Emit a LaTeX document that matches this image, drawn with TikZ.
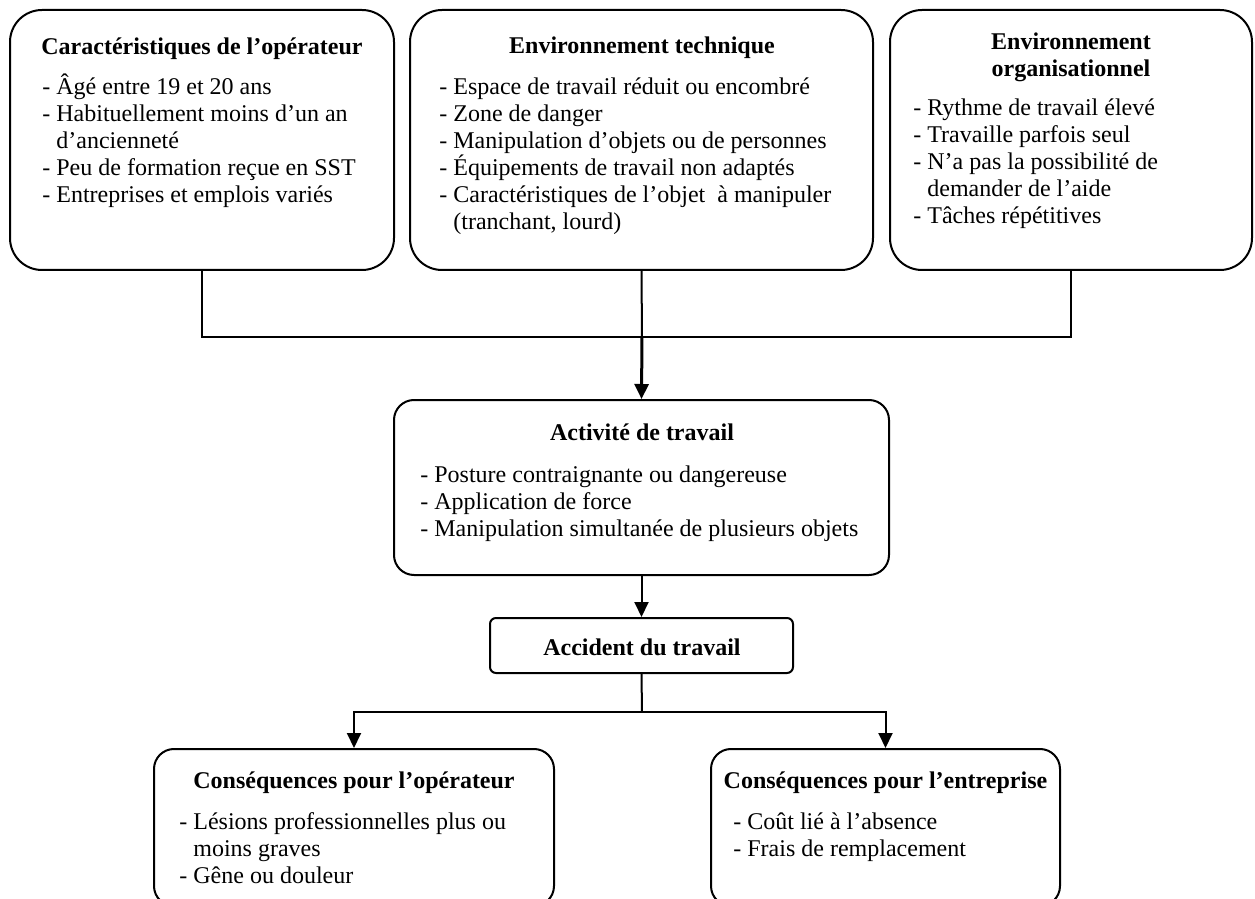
\documentclass[tikz,border=0pt]{standalone}
\usepackage{fontspec}
\setmainfont{Liberation Serif}
\usetikzlibrary{arrows.meta,fit}
\newcommand\rowline[1]{\hbox{#1}}
\newcommand\hangind{\hphantom{- }}
% a stack of lines at a fixed baseline pitch, baseline = first line
\newcommand\linestack[1]{\vtop{\lineskiplimit=-1000pt\relax #1}}
\begin{document}
\begin{tikzpicture}[x=0.5pt,y=-0.5pt,
  frame/.style={draw=black, line width=1pt, inner sep=0pt, rounded corners=#1},
  ttl/.style={inner sep=0pt, anchor=base, font=\fontsize{12}{13.5}\selectfont\bfseries},
  lst/.style={inner sep=0pt, anchor=base west, font=\fontsize{12}{13.5}\selectfont},
  conn/.style={draw=black, line width=1pt},
  arr/.style={conn, -{Triangle[length=7.5pt,width=7pt]}},
  bigarr/.style={arr, line width=1.5pt}]
\useasboundingbox (0,0) rectangle (1255,899);
\clip (0,0) rectangle (1255,899);
\fill[white] (0,0) rectangle (1255,899);

% --- top row: factors
\node[frame=16pt, fit={(10,10) (394,270)}] (op) {};
\node[ttl] (opT) at (202,55) {Caractéristiques de l’opérateur};
\node[lst] (opL) at (42,95) {\linestack{%
  \rowline{- Âgé entre 19 et 20 ans}
  \rowline{- Habituellement moins d’un an}
  \rowline{\hangind d’ancienneté}
  \rowline{- Peu de formation reçue en SST}
  \rowline{- Entreprises et emplois variés}}};

\node[frame=16pt, fit={(410,10) (873,270)}] (tech) {};
\node[ttl] (techT) at (642,54) {Environnement technique};
\node[lst] (techL) at (439,95) {\linestack{%
  \rowline{- Espace de travail réduit ou encombré}
  \rowline{- Zone de danger}
  \rowline{- Manipulation d’objets ou de personnes}
  \rowline{- Équipements de travail non adaptés}
  \rowline{- Caractéristiques de l’objet~ à manipuler}
  \rowline{\hangind(tranchant, lourd)}}};

\node[frame=16pt, fit={(890,10) (1252,270)}] (org) {};
\node[ttl] (orgT1) at (1071,50) {Environnement};
\node[ttl] (orgT2) at (1071,77) {organisationnel};
\node[lst] (orgL) at (913,116) {\linestack{%
  \rowline{- Rythme de travail élevé}
  \rowline{- Travaille parfois seul}
  \rowline{- N’a pas la possibilité de}
  \rowline{\hangind demander de l’aide}
  \rowline{- Tâches répétitives}}};

% --- work activity
\node[frame=10pt, fit={(394,400) (889,575)}] (act) {};
\node[ttl] (actT) at (642,440) {Activité de travail};
\node[lst] (actL) at (420,482.5) {\linestack{%
  \rowline{- Posture contraignante ou dangereuse}
  \rowline{- Application de force}
  \rowline{- Manipulation simultanée de plusieurs objets}}};

% --- accident
\node[frame=3pt, fit={(490,618) (793,673)}] (acc) {};
\node[ttl] (accT) at (642,655) {Accident du travail};

% --- consequences
\node[frame=10pt, fit={(154,749) (554,906)}] (cop) {};
\node[ttl] (copT) at (354,788) {Conséquences pour l’opérateur};
\node[lst] (copL) at (179,829) {\linestack{%
  \rowline{- Lésions professionnelles plus ou}
  \rowline{\hangind moins graves}
  \rowline{- Gêne ou douleur}}};

\node[frame=10pt, fit={(711,749) (1060,906)}] (cent) {};
\node[ttl] (centT) at (885.5,788) {Conséquences pour l’entreprise};
\node[lst] (centL) at (733,829) {\linestack{%
  \rowline{- Coût lié à l’absence}
  \rowline{- Frais de remplacement}}};

% --- connectors
\coordinate (hub) at (642,337);
\coordinate (split) at (642,712);
\draw[conn] (op.south) |- (hub) -| (org.south);
\draw[conn] (tech.south) -- (hub);
\draw[bigarr] (hub) -- (act.north);
\draw[arr] (act.south) -- (acc.north);
\draw[conn] (acc.south) -- (split);
\draw[arr] (split) -| (cop.north);
\draw[arr] (split) -| (cent.north);
\end{tikzpicture}
\end{document}
